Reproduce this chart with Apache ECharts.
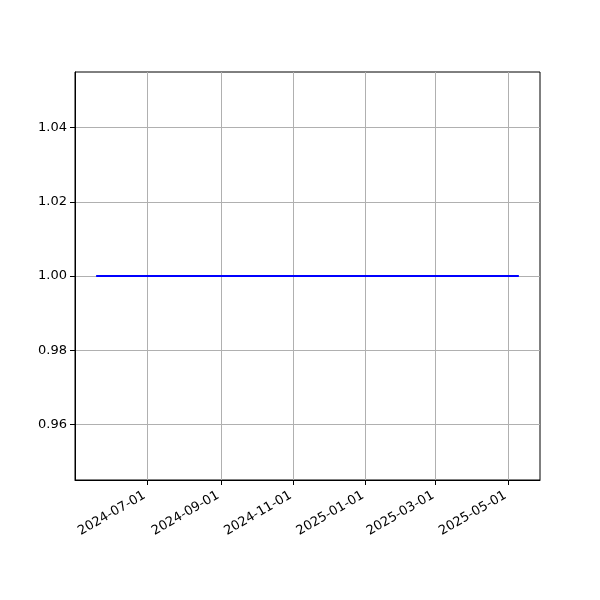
<!DOCTYPE html>
<html><head><meta charset="utf-8">
<script src="https://cdn.jsdelivr.net/npm/echarts@6/dist/echarts.min.js"></script>
<style>html,body{margin:0;padding:0;background:#fff}#c{width:600px;height:600px}</style>
</head><body><div id="c"></div>
<script>
// Data
const dates = ['2024-05-19', '2025-05-10'];
const values = [1.0, 1.0];
const xTickLabels = ['2024-07-01','2024-09-01','2024-11-01','2025-01-01','2025-03-01','2025-05-01'];
const yTickValues = [0.96, 0.98, 1.00, 1.02, 1.04];

function ts(s){ const p = s.split('-').map(Number); return Date.UTC(p[0], p[1]-1, p[2]); }
const xs = dates.map(ts);
const span = xs[xs.length-1] - xs[0];
const xMin = xs[0] - span*0.05, xMax = xs[xs.length-1] + span*0.05;
const xTicks = xTickLabels.map(ts);
function fmtDate(v){
  let best = '', bd = Infinity;
  xTicks.forEach((t,i)=>{ const d = Math.abs(t - v); if (d < bd){ bd = d; best = xTickLabels[i]; } });
  return bd < 3600000 ? best : '';
}

const chart = echarts.init(document.getElementById('c'), null, {renderer:'canvas'});
chart.setOption({
  animation:false,
  backgroundColor:'#fff',
  grid:{left:75, right:60, top:72, bottom:120, show:true, borderColor:'#000', borderWidth:1, backgroundColor:'transparent'},
  xAxis:{
    type:'value', min:xMin, max:xMax, scale:true,
    axisLine:{show:true, onZero:false, lineStyle:{color:'#000', width:1}},
    axisTick:{show:true, length:5, inside:false, customValues:xTicks, lineStyle:{color:'#000', width:1}},
    axisLabel:{show:true, customValues:xTicks, rotate:30, margin:13, padding:[0,3,0,0], color:'#000', fontSize:13, fontFamily:'DejaVu Sans',
      formatter:fmtDate, hideOverlap:false},
    splitLine:{show:true, lineStyle:{color:'#b0b0b0', width:1}}
  },
  yAxis:{
    type:'value', min:0.945, max:1.055, scale:true,
    axisLine:{show:true, onZero:false, lineStyle:{color:'#000', width:1}},
    axisTick:{show:true, length:5, customValues:yTickValues, lineStyle:{color:'#000', width:1}},
    axisLabel:{show:true, customValues:yTickValues, margin:8, color:'#000', fontSize:13, fontFamily:'DejaVu Sans',
      formatter:function(v){ return v.toFixed(2); }},
    splitLine:{show:true, lineStyle:{color:'#b0b0b0', width:1}}
  },
  series:[{
    type:'line',
    data: xs.map((x,i)=>[x, values[i]]),
    showSymbol:false, symbol:'none',
    lineStyle:{color:'#0000ff', width:2},
    itemStyle:{color:'#0000ff'}
  }]
});
</script></body></html>
